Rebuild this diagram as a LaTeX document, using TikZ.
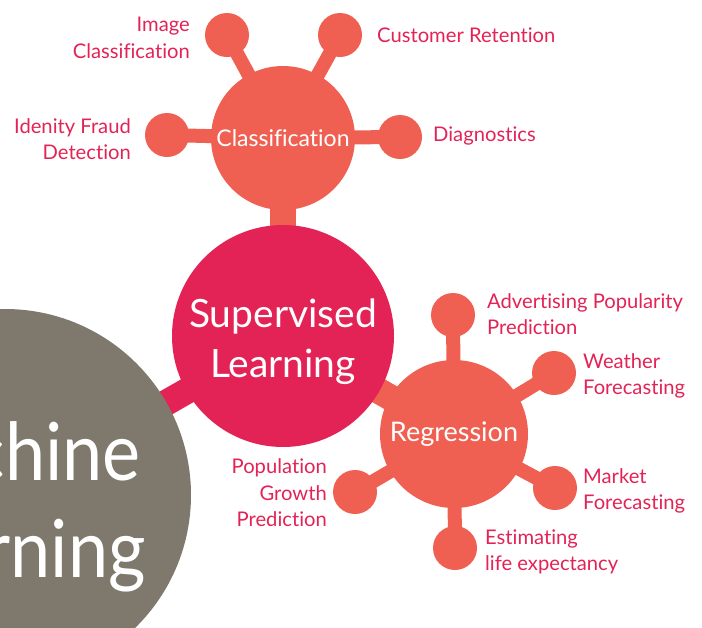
\documentclass[tikz,border=0pt]{standalone}
\usepackage{fontspec}
\setmainfont{Lato}[Ligatures=NoCommon]
\newfontfamily\mlfont{Lato}[FakeStretch=0.9]
\usetikzlibrary{backgrounds}
\definecolor{crim}{RGB}{227,35,85}
\definecolor{salm}{RGB}{240,96,82}
\definecolor{mlgray}{RGB}{126,121,108}
\begin{document}
\begin{tikzpicture}[x=1pt,y=-1pt,
  bubble/.style={circle, inner sep=0pt, text=white, align=center},
  sat/.style={circle, fill=salm, minimum size=44pt, inner sep=0pt},
  lbl/.style={text=crim, font=\fontsize{20.2}{26.5}\selectfont, inner sep=0pt},
  stemthin/.style={line width=14pt, draw=salm},
  stemthick/.style={line width=26pt, draw=salm},
  mltext/.style={anchor=base east, text=white, font=\mlfont\fontsize{80}{97}\selectfont, inner sep=0pt}]
\useasboundingbox (0,0) rectangle (702,627);
\clip (0,0) rectangle (702,627);
% main bubbles
\node[bubble, fill=mlgray, minimum size=372pt] (ml) at (5,495) {};
\node[bubble, fill=crim, minimum size=222pt] (sup) at (283,336) {};
\node[bubble, fill=salm, minimum size=144pt] (cls) at (283,138) {};
\node[bubble, fill=salm, minimum size=148pt] (reg) at (454,434) {};
% satellites
\node[sat] (c1) at (227,35) {};
\node[sat] (c2) at (340,35) {};
\node[sat] (c3) at (167,135) {};
\node[sat] (c4) at (400,137) {};
\node[sat] (r1) at (453,315) {};
\node[sat] (r2) at (554,373) {};
\node[sat] (r3) at (555,488) {};
\node[sat] (r4) at (455,548) {};
\node[sat] (r5) at (355,492) {};
% stems
\begin{scope}[on background layer]
  \draw[line width=26pt, draw=crim] (sup.center) -- (ml.center);
  \draw[stemthick] (sup.center) -- (cls.center);
  \draw[stemthick] (sup.center) -- (reg.center);
  \draw[stemthin] (cls.center) -- (c1.center);
  \draw[stemthin] (cls.center) -- (c2.center);
  \draw[stemthin] (cls.center) -- (c3.center);
  \draw[stemthin] (cls.center) -- (c4.center);
  \draw[stemthin] (reg.center) -- (r1.center);
  \draw[stemthin] (reg.center) -- (r2.center);
  \draw[stemthin] (reg.center) -- (r3.center);
  \draw[stemthin] (reg.center) -- (r4.center);
  \draw[stemthin] (reg.center) -- (r5.center);
\end{scope}
% bubble texts
\node[mltext] (mlt1) at (141,480) {Machine};
\node[mltext] (mlt2) at (146,577) {Learning};
\node[bubble, font=\fontsize{39}{50}\selectfont] (supt) at (283,342) {Supervised\\Learning};
\node[bubble, font=\fontsize{23}{28}\selectfont] (clst) at (283,138) {Classification};
\node[bubble, font=\fontsize{27}{32}\selectfont] (regt) at (454,434) {Regression};
% labels
\node[lbl, anchor=east, align=right] (t1) at (190,38) {Image\\Classification};
\node[lbl, anchor=west] (t2) at (377,35) {Customer Retention};
\node[lbl, anchor=east, align=right] (t3) at (131,139) {Idenity Fraud\\Detection};
\node[lbl, anchor=west] (t4) at (433,136) {Diagnostics};
\node[lbl, anchor=west, align=left] (t5) at (487,314) {Advertising Popularity\\Prediction};
\node[lbl, anchor=west, align=left] (t6) at (583,376) {Weather\\Forecasting};
\node[lbl, anchor=west, align=left] (t7) at (583,491) {Market\\Forecasting};
\node[lbl, anchor=west, align=left] (t8) at (485,552) {Estimating\\life expectancy};
\node[lbl, anchor=east, align=right] (t9) at (327,493) {Population\\Growth\\Prediction};
\end{tikzpicture}
\end{document}
